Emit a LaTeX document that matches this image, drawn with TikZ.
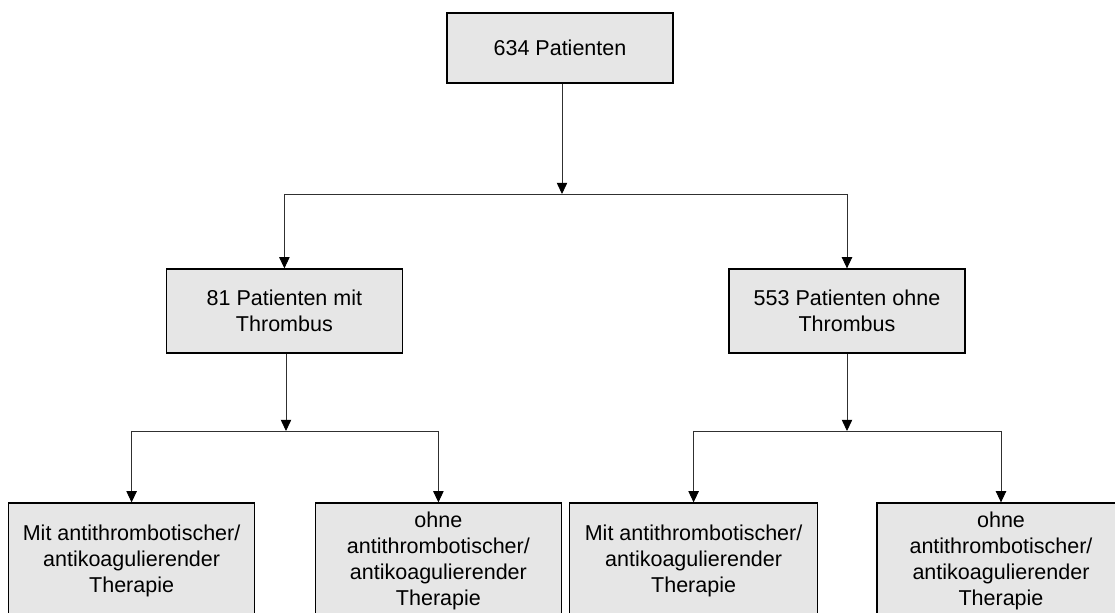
\documentclass[tikz,border=0pt]{standalone}
\usepackage{fontspec}
\setmainfont{Liberation Sans}
\usepackage{tikz}
\usetikzlibrary{arrows.meta,positioning,calc}
\usepackage{xcolor}
\definecolor{boxgray}{HTML}{E6E6E6}
\definecolor{linegray}{HTML}{303030}
\tikzset{
  box/.style={draw=black, fill=boxgray, line width=0.9pt, align=center, inner sep=2pt, font=\fontsize{15.3}{18.6}\selectfont},
  topbox/.style={box, minimum width=5.65cm, minimum height=1.75cm},
  midbox/.style={box, minimum width=5.9cm, minimum height=2.1cm},
  leafbox/.style={box, minimum width=6.15cm, minimum height=2.9cm},
  arrow/.style={-{Triangle[length=2.8mm,width=2.6mm,fill=black,color=black]}, line width=0.6pt, draw=linegray},
  branch/.style={line width=0.6pt, draw=linegray}
}

\begin{document}
\begin{tikzpicture}
\clip (0,0) rectangle (27.875,15.325);
% boxes
\node[topbox] (all) at (14.0,14.125) {634 Patienten};
\node[midbox] (thr) at (7.11,7.55) {81 Patienten mit\\Thrombus};
\node[midbox] (nothr) at (21.175,7.55) {553 Patienten ohne\\Thrombus};
\node[leafbox] (thrmit) at (3.29,1.3) {Mit antithrombotischer/\\antikoagulierender\\Therapie};
\node[leafbox] (throhne) at (10.96,1.3) {ohne\\antithrombotischer/\\antikoagulierender\\Therapie};
\node[leafbox, minimum width=6.2cm] (nothrmit) at (17.34,1.3) {Mit antithrombotischer/\\antikoagulierender\\Therapie};
\node[leafbox, minimum width=6.2cm] (nothrohne) at (25.025,1.3) {ohne\\antithrombotischer/\\antikoagulierender\\Therapie};
% split points
\coordinate (s1) at (14.05,10.475);
\coordinate (s2) at (7.15,4.55);
\coordinate (s3) at (21.175,4.55);
% connectors
\draw[arrow] (all.south -| s1) -- (s1);
\draw[branch] (s1 -| thr) -- (s1 -| nothr);
\draw[arrow] (s1 -| thr) -- (thr);
\draw[arrow] (s1 -| nothr) -- (nothr);
\draw[arrow] (thr.south -| s2) -- (s2);
\draw[branch] (s2 -| thrmit) -- (s2 -| throhne);
\draw[arrow] (s2 -| thrmit) -- (thrmit);
\draw[arrow] (s2 -| throhne) -- (throhne);
\draw[arrow] (nothr.south -| s3) -- (s3);
\draw[branch] (s3 -| nothrmit) -- (s3 -| nothrohne);
\draw[arrow] (s3 -| nothrmit) -- (nothrmit);
\draw[arrow] (s3 -| nothrohne) -- (nothrohne);
\end{tikzpicture}
\end{document}
